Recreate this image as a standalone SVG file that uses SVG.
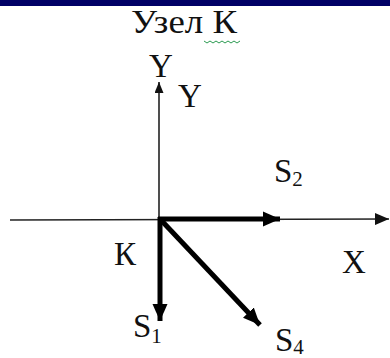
<svg xmlns="http://www.w3.org/2000/svg" width="390" height="358" viewBox="0 0 390 358">
<style>
  .lbl { font-family: "Liberation Serif", "Times New Roman", serif; font-size: 33px; fill: #111; }
  .sub { font-size: 21px; }
  .thin { stroke: #222; stroke-width: 1.6; fill: none; }
  .thick { stroke: #000; stroke-width: 5; fill: none; }
</style>
<defs>
  <marker id="headThick" markerUnits="userSpaceOnUse" markerWidth="18" markerHeight="16" refX="17" refY="8" orient="auto">
    <path d="M0,0.5 L17,8 L0,15.5 z" fill="#000"/>
  </marker>
  <marker id="headThin" markerUnits="userSpaceOnUse" markerWidth="15" markerHeight="12" refX="14" refY="6" orient="auto">
    <path d="M0,0 L14,6 L0,12 z" fill="#111"/>
  </marker>
  <marker id="headUp" markerUnits="userSpaceOnUse" markerWidth="12" markerHeight="9" refX="11" refY="4.5" orient="auto">
    <path d="M0,0 L11,4.5 L0,9 z" fill="#111"/>
  </marker>
</defs>
<rect x="0" y="0" width="390" height="6" fill="#000066"/>
<g id="title">
  <text class="lbl" x="131" y="33" style="font-size:34px" textLength="106" lengthAdjust="spacingAndGlyphs">Узел К</text>
  <path d="M204,41 l3,2 l3,-2 l3,2 l3,-2 l3,2 l3,-2 l3,2 l3,-2 l3,2 l3,-2 l3,2 l3,-2" stroke="#2a9a50" stroke-width="1" fill="none"/>
</g>
<g id="connectors">
  <line class="thin" x1="10" y1="220" x2="389" y2="219" marker-end="url(#headThin)"/>
  <line class="thin" x1="159" y1="220" x2="159" y2="82" marker-end="url(#headUp)"/>
  <line class="thick" x1="158" y1="219" x2="280" y2="219" marker-end="url(#headThick)"/>
  <line class="thick" x1="160" y1="217" x2="160" y2="321" marker-end="url(#headThick)"/>
  <line class="thick" x1="160" y1="219" x2="260" y2="325" marker-end="url(#headThick)"/>
</g>
<g id="Y-axis-label"><text class="lbl" x="149" y="77">Y</text></g>
<g id="Y-label"><text class="lbl" x="178" y="107">Y</text></g>
<g id="K"><text class="lbl" x="114" y="265">К</text></g>
<g id="X"><text class="lbl" x="342" y="273">X</text></g>
<g id="S2"><text class="lbl" x="274" y="182">S<tspan class="sub" dy="4">2</tspan></text></g>
<g id="S1"><text class="lbl" x="133" y="337">S<tspan class="sub" dy="6">1</tspan></text></g>
<g id="S4"><text class="lbl" x="275" y="351">S<tspan class="sub" dy="3">4</tspan></text></g>
</svg>
